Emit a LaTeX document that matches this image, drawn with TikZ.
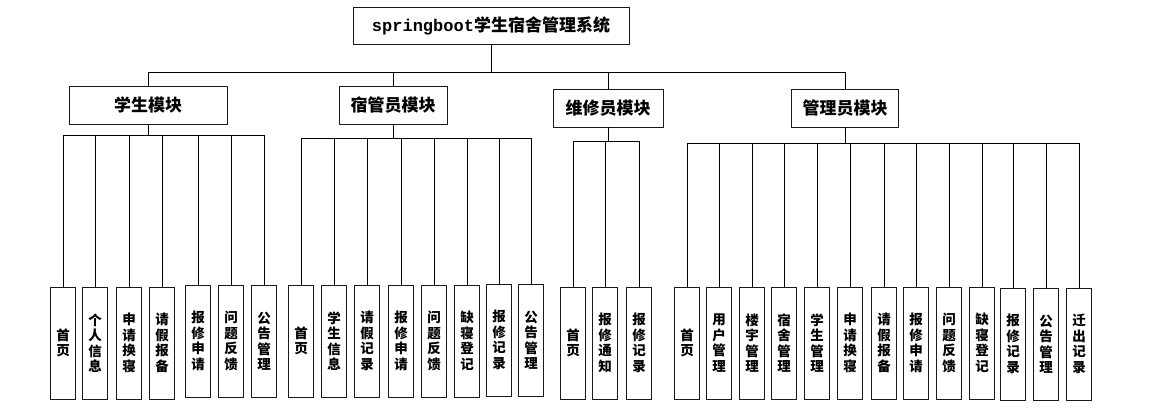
\documentclass[tikz,border=0pt]{standalone}
\usepackage{fontspec}
\setmonofont{Liberation Mono}
\newfontfamily\cjk{Noto Sans CJK SC}
\usepackage{tikz}
\definecolor{boxline}{HTML}{1A1A1A}

\begin{document}
\begin{tikzpicture}[x=1pt, y=-1pt,
  rootbox/.style={rectangle, draw=boxline, line width=0.9pt, minimum width=276pt, minimum height=37pt,
              inner sep=0pt, font=\cjk\fontsize{17}{19}\selectfont\bfseries},
  modbox/.style={rectangle, draw=boxline, line width=0.9pt, minimum height=38pt,
              inner sep=0pt, font=\cjk\fontsize{17}{19}\selectfont\bfseries},
  leafbox/.style={rectangle, draw=boxline, line width=0.9pt, minimum width=25pt, minimum height=112pt,
              inner sep=0pt, align=center, font=\cjk\fontsize{13.5}{15.5}\selectfont\bfseries},
  link/.style={line width=0.9pt, draw=black},
]
  \useasboundingbox (0,0) rectangle (1166,411);

  \node[rootbox] (root) at (491,25.5) {{\ttfamily springboot}学生宿舍管理系统};

  \node[modbox, minimum width=158pt] (stu)  at (148,105)   {学生模块};
  \node[modbox, minimum width=108pt] (dorm) at (393,105.5) {宿管员模块};
  \node[modbox, minimum width=110pt] (fix)  at (608,108)   {维修员模块};
  \node[modbox, minimum width=107pt] (adm)  at (845,108)   {管理员模块};

  % student leaves
  \node[leafbox] (s1) at (63,343)  {首\\页};
  \node[leafbox] (s2) at (95,343)  {个\\人\\信\\息};
  \node[leafbox] (s3) at (129,343) {申\\请\\换\\寝};
  \node[leafbox] (s4) at (162,343) {请\\假\\报\\备};
  \node[leafbox] (s5) at (198,341) {报\\修\\申\\请};
  \node[leafbox] (s6) at (231,341) {问\\题\\反\\馈};
  \node[leafbox] (s7) at (264,341) {公\\告\\管\\理};

  % dorm manager leaves
  \node[leafbox] (d1) at (301,341) {首\\页};
  \node[leafbox] (d2) at (334,341) {学\\生\\信\\息};
  \node[leafbox] (d3) at (367,341) {请\\假\\记\\录};
  \node[leafbox] (d4) at (401,341) {报\\修\\申\\请};
  \node[leafbox] (d5) at (434,341) {问\\题\\反\\馈};
  \node[leafbox] (d6) at (467,341) {缺\\寝\\登\\记};
  \node[leafbox] (d7) at (499,340) {报\\修\\记\\录};
  \node[leafbox] (d8) at (531,340) {公\\告\\管\\理};

  % repair leaves
  \node[leafbox] (f1) at (573,343) {首\\页};
  \node[leafbox] (f2) at (605,343) {报\\修\\通\\知};
  \node[leafbox] (f3) at (639,343) {报\\修\\记\\录};

  % admin leaves
  \node[leafbox] (a1)  at (687,343)  {首\\页};
  \node[leafbox] (a2)  at (719,343)  {用\\户\\管\\理};
  \node[leafbox] (a3)  at (752,343)  {楼\\宇\\管\\理};
  \node[leafbox] (a4)  at (784,343)  {宿\\舍\\管\\理};
  \node[leafbox] (a5)  at (817,343)  {学\\生\\管\\理};
  \node[leafbox] (a6)  at (850,343)  {申\\请\\换\\寝};
  \node[leafbox] (a7)  at (884,343)  {请\\假\\报\\备};
  \node[leafbox] (a8)  at (916,343)  {报\\修\\申\\请};
  \node[leafbox] (a9)  at (949,343)  {问\\题\\反\\馈};
  \node[leafbox] (a10) at (982,343)  {缺\\寝\\登\\记};
  \node[leafbox] (a11) at (1013,344) {报\\修\\记\\录};
  \node[leafbox] (a12) at (1046,344) {公\\告\\管\\理};
  \node[leafbox] (a13) at (1079,344) {迁\\出\\记\\录};

  % root to modules
  \coordinate (rj) at (491,72);
  \draw[link] (root) -- (rj);
  \draw[link] (rj) -| (stu);
  \draw[link] (rj) -| (dorm);
  \draw[link] (rj) -| (fix);
  \draw[link] (rj) -| (adm);

  % modules to leaves
  \coordinate (sj) at (148,135);
  \draw[link] (stu) -- (sj);
  \draw[link] (sj) -| (s1);
  \draw[link] (sj) -| (s2);
  \draw[link] (sj) -| (s3);
  \draw[link] (sj) -| (s4);
  \draw[link] (sj) -| (s5);
  \draw[link] (sj) -| (s6);
  \draw[link] (sj) -| (s7);

  \coordinate (dj) at (393,138);
  \draw[link] (dorm) -- (dj);
  \draw[link] (dj) -| (d1);
  \draw[link] (dj) -| (d2);
  \draw[link] (dj) -| (d3);
  \draw[link] (dj) -| (d4);
  \draw[link] (dj) -| (d5);
  \draw[link] (dj) -| (d6);
  \draw[link] (dj) -| (d7);
  \draw[link] (dj) -| (d8);

  \coordinate (fj) at (608,141);
  \draw[link] (fix) -- (fj);
  \draw[link] (fj) -| (f1);
  \draw[link] (fj) -| (f2);
  \draw[link] (fj) -| (f3);

  \coordinate (aj) at (845,143);
  \draw[link] (adm) -- (aj);
  \draw[link] (aj) -| (a1);
  \draw[link] (aj) -| (a2);
  \draw[link] (aj) -| (a3);
  \draw[link] (aj) -| (a4);
  \draw[link] (aj) -| (a5);
  \draw[link] (aj) -| (a6);
  \draw[link] (aj) -| (a7);
  \draw[link] (aj) -| (a8);
  \draw[link] (aj) -| (a9);
  \draw[link] (aj) -| (a10);
  \draw[link] (aj) -| (a11);
  \draw[link] (aj) -| (a12);
  \draw[link] (aj) -| (a13);
\end{tikzpicture}
\end{document}
